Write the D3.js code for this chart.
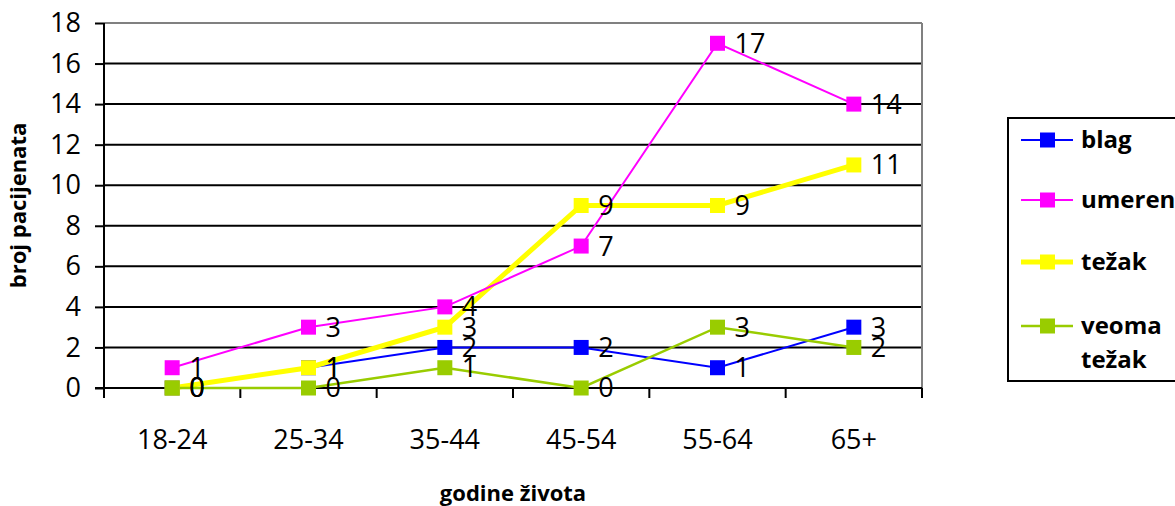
<!DOCTYPE html>
<html lang="en">
<head>
    <meta charset="UTF-8">
    <title>broj pacijenata</title>
    <script src="https://d3js.org/d3.v7.min.js"></script>
    <style>
        body { margin: 0; background: #fff; }
        text { font-family: 'Open Sans', Lato, sans-serif; fill: #000; }
        .tick text { font-size: 27px; }
        .lbl { font-size: 27px; }
        .ttl { font-size: 22px; font-weight: bold; }
        .leg { font-size: 24px; font-weight: bold; }
    </style>
</head>
<body>
<script>

    const width  = 1175;
    const height = 506;

    const categories = ['18-24', '25-34', '35-44', '45-54', '55-64', '65+'];
    const yTicks = [0, 2, 4, 6, 8, 10, 12, 14, 16, 18];

    const blag        = [0, 1, 2, 2, 1, 3];
    const umeren      = [1, 3, 4, 7, 17, 14];
    const tezak       = [0, 1, 3, 9, 9, 11];
    const veomaTezak  = [0, 0, 1, 0, 3, 2];

    const series = [
        {name: 'blag', values: blag, color: '#0000ff', w: 2},
        {name: 'umeren', values: umeren, color: '#ff00ff', w: 2},
        {name: 'težak', values: tezak, color: '#ffff00', w: 5},
        {name: 'veoma težak', values: veomaTezak, color: '#99cc00', w: 2.5}
    ];
    // lines drawn in this order (magenta over yellow, green on top)
    const drawOrder = [0, 2, 1, 3];

    const pLeft = 104, pRight = 922, pTop = 23, pBottom = 388;

    const x = d3.scaleBand().domain(categories).range([pLeft, pRight]);
    const y = d3.scaleLinear().domain([0, 18]).range([pBottom, pTop]);

    const svg = d3.select("body")
            .append("svg")
            .attr("width", width)
            .attr("height", height);

    // gridlines
    svg.append("g").selectAll("line")
            .data(yTicks.filter(d => d > 0))
            .enter()
            .append("line")
            .attr("x1", pLeft).attr("x2", pRight)
            .attr("y1", d => y(d)).attr("y2", d => y(d))
            .attr("stroke", d => d === 18 ? "#808080" : "#000")
            .attr("stroke-width", 2);

    svg.append("line")
            .attr("x1", pRight).attr("x2", pRight)
            .attr("y1", pTop).attr("y2", pBottom)
            .attr("stroke", "#808080").attr("stroke-width", 2);

    // y axis
    const yAxis = d3.axisLeft(y).tickValues(yTicks).tickSize(9).tickPadding(14);
    const gy = svg.append("g").attr("transform", "translate(" + pLeft + ",0)").call(yAxis);
    gy.select(".domain").remove();
    gy.selectAll(".tick line").attr("stroke", "#000").attr("stroke-width", 2);
    gy.append("line").attr("x1", 0).attr("x2", 0).attr("y1", pTop).attr("y2", pBottom + 9)
            .attr("stroke", "#000").attr("stroke-width", 2);

    // x axis
    const xb = svg.append("g").attr("transform", "translate(0," + pBottom + ")");
    xb.append("line").attr("x1", pLeft - 9).attr("x2", pRight).attr("y1", 0).attr("y2", 0)
            .attr("stroke", "#000").attr("stroke-width", 2);
    const bounds = categories.map(c => x(c)).concat([pRight]);
    xb.selectAll(".xt").data(bounds).enter().append("line")
            .attr("x1", d => d).attr("x2", d => d).attr("y1", 0).attr("y2", 10)
            .attr("stroke", "#000").attr("stroke-width", 2);
    xb.selectAll(".xl").data(categories).enter().append("text")
            .attr("class", "lbl")
            .attr("x", d => x(d) + x.bandwidth() / 2)
            .attr("y", 52)
            .attr("dy", "0.35em")
            .attr("text-anchor", "middle")
            .text(d => d);

    // axis titles
    svg.append("text").attr("class", "ttl")
            .attr("transform", "translate(18," + ((pTop + pBottom) / 2) + ") rotate(-90)")
            .attr("text-anchor", "middle").attr("dy", "0.35em")
            .text("broj pacijenata");
    svg.append("text").attr("class", "ttl")
            .attr("x", (pLeft + pRight) / 2).attr("y", 493).attr("dy", "0.35em")
            .attr("text-anchor", "middle")
            .text("godine života");

    const px = i => x(categories[i]) + x.bandwidth() / 2;

    const line = d3.line()
            .x((d, i) => px(i))
            .y(d => y(d));

    drawOrder.forEach(k => {
        const s = series[k];
        svg.append("path")
                .attr("d", line(s.values))
                .attr("fill", "none")
                .attr("stroke", s.color)
                .attr("stroke-width", s.w);
    });
    drawOrder.forEach(k => {
        const s = series[k];
        const g = svg.append("g");
        g.selectAll("rect").data(s.values).enter().append("rect")
                .attr("x", (d, i) => px(i) - 7.5).attr("y", d => y(d) - 7.5)
                .attr("width", 15).attr("height", 15)
                .attr("fill", s.color);
        g.selectAll("text").data(s.values).enter().append("text")
                .attr("class", "lbl")
                .attr("x", (d, i) => px(i) + 17).attr("y", d => y(d))
                .attr("dy", "0.35em")
                .text(d => d);
    });

    // legend
    const leg = svg.append("g").attr("transform", "translate(1008,118)");
    leg.append("rect").attr("x", 0).attr("y", 0).attr("width", 200).attr("height", 263)
            .attr("fill", "#fff").attr("stroke", "#000").attr("stroke-width", 2);
    const legY = [22, 82, 144, 208];
    series.forEach((s, i) => {
        leg.append("line").attr("x1", 13).attr("x2", 65)
                .attr("y1", legY[i]).attr("y2", legY[i])
                .attr("stroke", s.color).attr("stroke-width", s.w);
        leg.append("rect").attr("x", 32).attr("y", legY[i] - 7.5)
                .attr("width", 15).attr("height", 15).attr("fill", s.color);
        const words = s.name.split(' ');
        words.forEach((w, j) => {
            leg.append("text").attr("class", "leg")
                    .attr("x", 73).attr("y", legY[i] + j * 34)
                    .attr("dy", "0.35em")
                    .text(w);
        });
    });

</script>
</body>
</html>
